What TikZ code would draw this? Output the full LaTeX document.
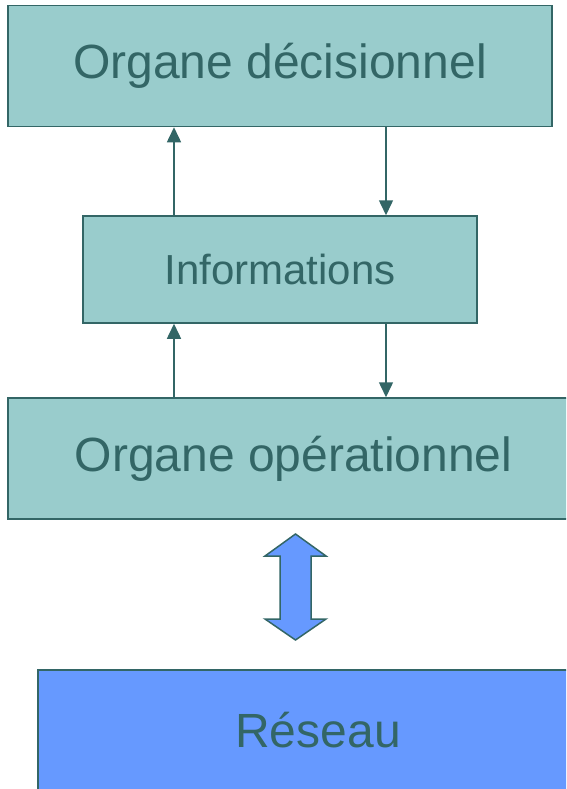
\documentclass[tikz,border=0pt]{standalone}
\usepackage{fontspec}
\setmainfont{Liberation Sans}
\usetikzlibrary{arrows.meta}
\definecolor{boxfill}{HTML}{99CCCC}
\definecolor{boxline}{HTML}{336666}
\definecolor{netfill}{HTML}{6699FF}
\tikzset{
  organe/.style={draw=boxline,fill=boxfill,line width=1.5pt,text=boxline,inner sep=0pt,
    font=\fontsize{48}{48}\selectfont},
  flux/.style={draw=boxline,line width=1.5pt,-{Triangle[length=15pt,width=14pt]}}
}
\begin{document}
\begin{tikzpicture}[x=1pt,y=-1pt]
  \clip (0,0) rectangle (566,789);
  \node[organe,minimum width=544pt,minimum height=121pt] (dec) at (280,66) {Organe décisionnel};
  \node[organe,minimum width=394pt,minimum height=107pt,font=\fontsize{42}{42}\selectfont] (info) at (280,269.5) {Informations};
  \node[organe,minimum width=571pt,minimum height=121pt] (ope) at (293.5,458.5) {Organe opérationnel};
  \node[organe,fill=netfill,minimum width=560pt,minimum height=121pt] (reseau) at (318,730.5) {Réseau};
  % montee et descente
  \coordinate (m) at (174,0);
  \coordinate (d) at (386,0);
  \draw[flux] (m |- info.north) -- (m |- dec.south);
  \draw[flux] (d |- dec.south) -- (d |- info.north);
  \draw[flux] (m |- ope.north) -- (m |- info.south);
  \draw[flux] (d |- info.south) -- (d |- ope.north);
  % double fleche
  \draw[boxline,fill=netfill,line width=1.5pt,line join=miter]
    (295.5,534) -- (326,556) -- (311,556) -- (311,619) -- (326,619) -- (295.5,640)
    -- (265,619) -- (280,619) -- (280,556) -- (265,556) -- cycle;
\end{tikzpicture}
\end{document}
